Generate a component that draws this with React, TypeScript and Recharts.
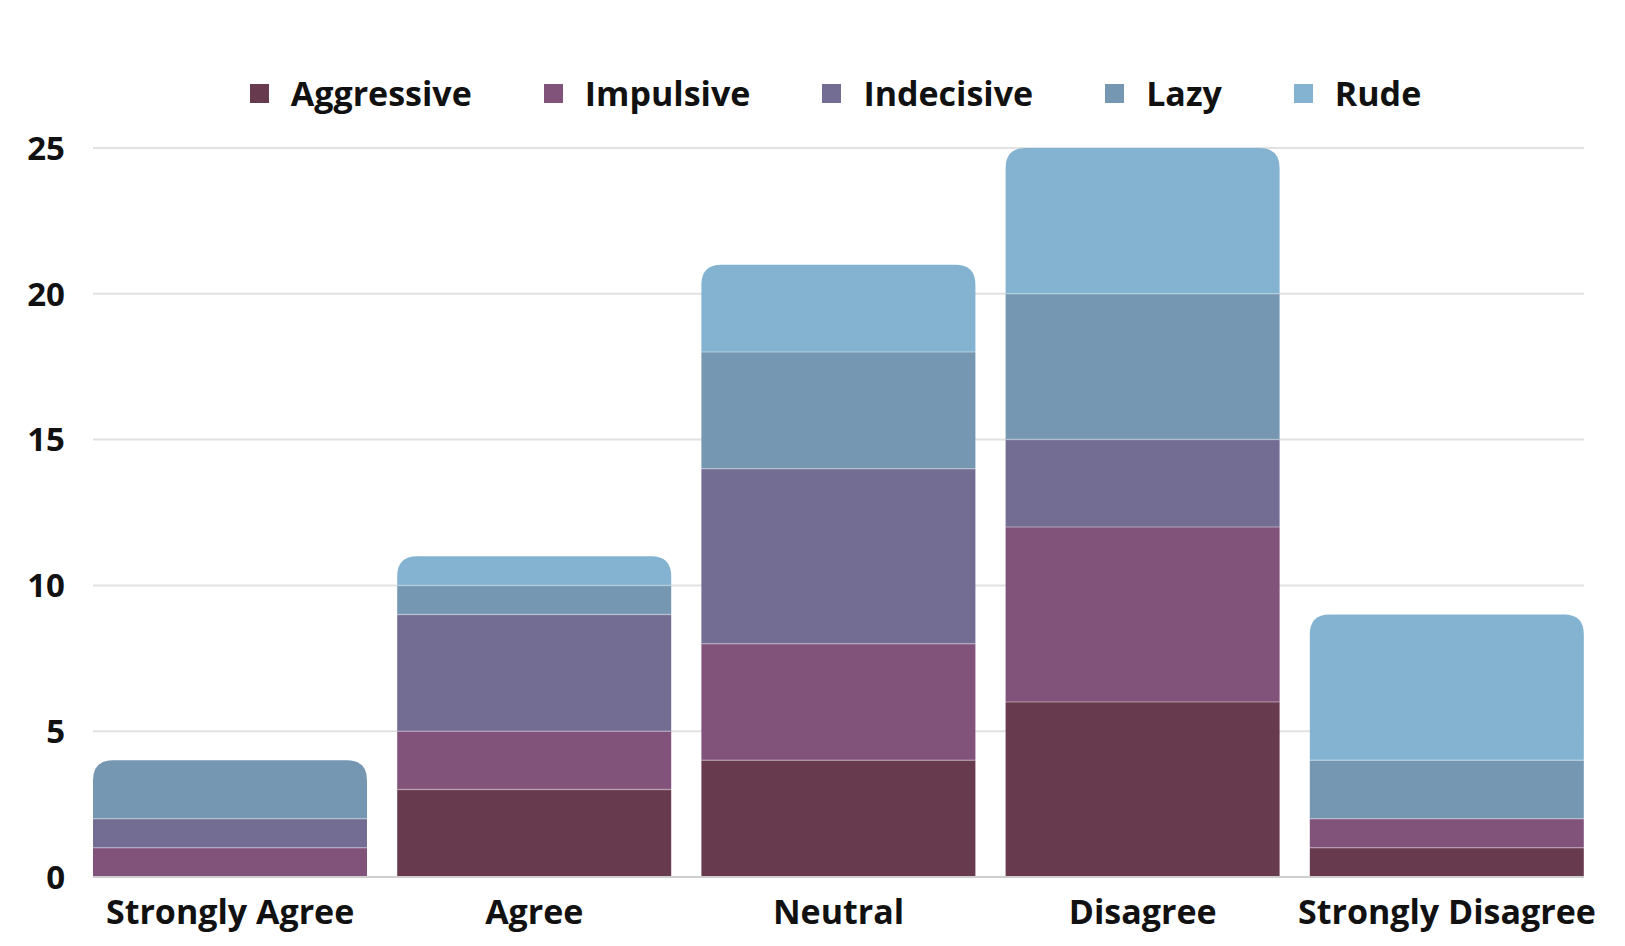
import { Bar, BarChart, CartesianGrid, Legend, XAxis, YAxis } from "recharts";

const categories = ["Strongly Agree", "Agree", "Neutral", "Disagree", "Strongly Disagree"];
const aggressive = [0, 3, 4, 6, 1];
const impulsive = [1, 2, 4, 6, 1];
const indecisive = [1, 4, 6, 3, 0];
const lazy = [2, 1, 4, 5, 2];
const rude = [0, 1, 3, 5, 5];
const yTicks = [0, 5, 10, 15, 20, 25];

const series = [
  { key: "Aggressive", color: "#673a4e" },
  { key: "Impulsive", color: "#81537b" },
  { key: "Indecisive", color: "#736c93" },
  { key: "Lazy", color: "#7697b2" },
  { key: "Rude", color: "#83b3d1" },
];

const data = categories.map((name, i) => ({
  name,
  Aggressive: aggressive[i],
  Impulsive: impulsive[i],
  Indecisive: indecisive[i],
  Lazy: lazy[i],
  Rude: rude[i],
}));

const FONT = "'Open Sans', sans-serif";

function topKey(row: any) {
  let top = "";
  for (const s of series) if (row[s.key] > 0) top = s.key;
  return top;
}

function makeShape(key: string) {
  return (props: any) => {
    const { x, y, width, height, fill, payload } = props;
    if (!height || height <= 0) return <g />;
    const isTop = topKey(payload) === key;
    const isBottom = series.find((s) => payload[s.key] > 0)?.key === key;
    const r = isTop ? Math.min(20, height) : 0;
    const d = `M${x},${y + height} L${x},${y + r} Q${x},${y} ${x + r},${y} L${x + width - r},${y} Q${x + width},${y} ${x + width},${y + r} L${x + width},${y + height} Z`;
    return (
      <g>
        <path d={d} fill={fill} />
        {!isBottom && (
          <line x1={x} x2={x + width} y1={y + height} y2={y + height} stroke="#ffffff" strokeOpacity={0.3} strokeWidth={1.5} />
        )}
      </g>
    );
  };
}

function LegendContent() {
  return (
    <div style={{ display: "flex", justifyContent: "center", gap: 72, fontFamily: FONT, fontWeight: 700, fontSize: 34, color: "#111", paddingLeft: 46 }}>
      {series.map((s) => (
        <div key={s.key} style={{ display: "flex", alignItems: "center" }}>
          <span style={{ width: 19, height: 19, background: s.color, display: "inline-block", marginRight: 22 }} />
          <span>{s.key}</span>
        </div>
      ))}
    </div>
  );
}

export default function App() {
  return (
    <div style={{ position: "absolute", left: 0, top: 0, background: "#fff" }}>
      <BarChart
        width={1625}
        height={946}
        data={data}
        margin={{ top: 148, right: 41, bottom: 9, left: 13 }}
        barCategoryGap={15}
      >
        <CartesianGrid vertical={false} stroke="#e2e2e2" strokeWidth={2} />
        <XAxis
          dataKey="name"
          height={60}
          axisLine={{ stroke: "#cfcfcf", strokeWidth: 2 }}
          tickLine={false}
          tickMargin={17}
          padding={{ left: -15, right: -15 }}
          interval={0}
          tick={{ fill: "#111", fontFamily: FONT, fontWeight: 700, fontSize: 34 }}
        />
        <YAxis
          width={80}
          domain={[0, 25]}
          ticks={yTicks}
          axisLine={false}
          tickLine={false}
          tickMargin={22}
          tick={{ fill: "#111", fontFamily: FONT, fontWeight: 700, fontSize: 33 }}
        />
        <Legend verticalAlign="middle" layout="horizontal" content={LegendContent} wrapperStyle={{ top: 70, left: 0, width: 1625 }} />
        {series.map((s) => (
          <Bar key={s.key} dataKey={s.key} stackId="a" fill={s.color} isAnimationActive={false} shape={makeShape(s.key)} />
        ))}
      </BarChart>
    </div>
  );
}
